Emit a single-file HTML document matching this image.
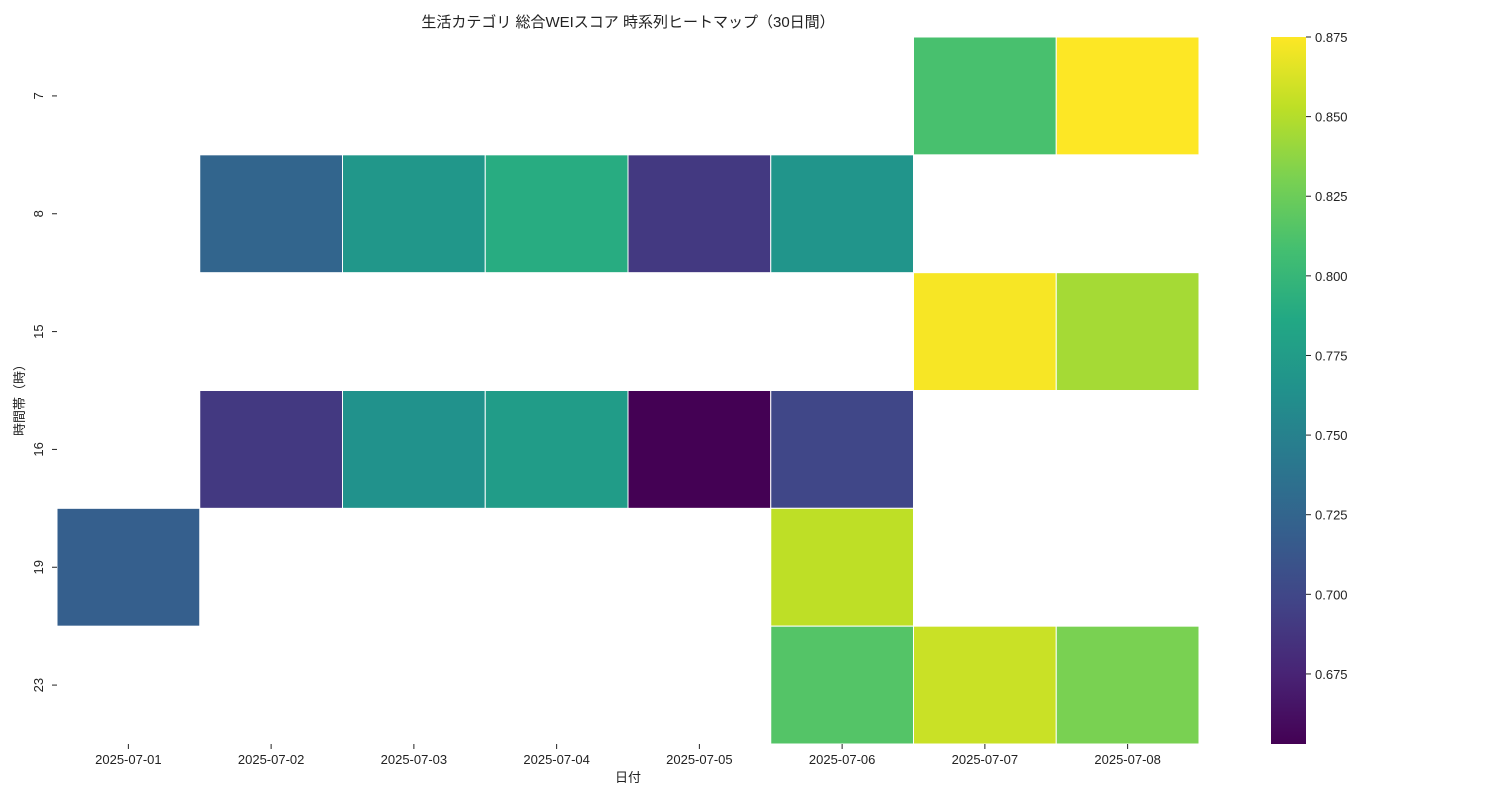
<!DOCTYPE html>
<html><head><meta charset="utf-8"><style>
body{margin:0;background:#fff;}
svg text{font-family:"Liberation Sans","Noto Sans CJK JP",sans-serif;fill:#222;}
</style></head><body>
<svg id="chart" width="1500" height="800" xmlns="http://www.w3.org/2000/svg">
<defs><linearGradient id="cbg" x1="0" y1="1" x2="0" y2="0">
<stop offset="0" stop-color="#440154"/><stop offset="0.1" stop-color="#482475"/><stop offset="0.2" stop-color="#414487"/><stop offset="0.3" stop-color="#355f8d"/><stop offset="0.4" stop-color="#2a788e"/><stop offset="0.5" stop-color="#21918c"/><stop offset="0.6" stop-color="#22a884"/><stop offset="0.7" stop-color="#44bf70"/><stop offset="0.8" stop-color="#7ad151"/><stop offset="0.9" stop-color="#bddf26"/><stop offset="1" stop-color="#fde725"/>
</linearGradient></defs>
<text x="628" y="27" font-size="15" text-anchor="middle">生活カテゴリ 総合WEIスコア 時系列ヒートマップ（30日間）</text>
<text x="628" y="782" font-size="13" text-anchor="middle">日付</text>
<text transform="translate(24,397) rotate(-90)" font-size="13" text-anchor="middle">時間帯（時）</text>
<rect x="1271" y="37" width="35" height="707" fill="url(#cbg)"/>
<g id="cells"></g><g id="axes"></g>
</svg>
<script>
const dates=["2025-07-01","2025-07-02","2025-07-03","2025-07-04","2025-07-05","2025-07-06","2025-07-07","2025-07-08"];
const hours=["7","8","15","16","19","23"];
const values=[
[null,null,null,null,null,null,0.81,0.875],
[null,0.725,0.77,0.79,0.69,0.768,null,null],
[null,null,null,null,null,null,0.873,0.845],
[null,0.69,0.765,0.775,0.653,0.70,null,null],
[0.72,null,null,null,null,0.853,null,null],
[null,null,null,null,null,0.815,0.857,0.83]];
const cbTicks=[0.675,0.7,0.725,0.75,0.775,0.8,0.825,0.85,0.875];
const vmin=0.653,vmax=0.875;
const X0=57,X1=1199,Y0=37,Y1=744;
const cw=(X1-X0)/dates.length,ch=(Y1-Y0)/hours.length;
const xPos=i=>X0+i*cw, yPos=j=>Y0+j*ch;
const cbY=v=>Y1-(v-vmin)/(vmax-vmin)*(Y1-Y0);
const vir=["#440154","#482475","#414487","#355f8d","#2a788e","#21918c","#22a884","#44bf70","#7ad151","#bddf26","#fde725"];
function hex(h){return [1,3,5].map(k=>parseInt(h.substr(k,2),16));}
function color(v){let t=Math.max(0,Math.min(1,(v-vmin)/(vmax-vmin)))*10;let i=Math.min(9,Math.floor(t)),f=t-i;
const a=hex(vir[i]),b=hex(vir[i+1]);return "rgb("+a.map((c,k)=>Math.round(c+(b[k]-c)*f)).join(",")+")";}
const NS="http://www.w3.org/2000/svg";
const cells=document.getElementById("cells"),axes=document.getElementById("axes");
function mk(tag,attrs,parent){const e=document.createElementNS(NS,tag);for(const k in attrs)e.setAttribute(k,attrs[k]);parent.appendChild(e);return e;}
values.forEach((row,j)=>row.forEach((v,i)=>{if(v==null)return;
const r=mk("rect",{x:xPos(i),y:yPos(j),width:cw,height:ch,fill:color(v),stroke:"#fff","stroke-width":1},cells);

}));
dates.forEach((d,i)=>{const cx=xPos(i)+cw/2;
mk("line",{x1:cx,x2:cx,y1:Y1,y2:Y1+5,stroke:"#222"},axes);
const t=mk("text",{x:cx,y:Y1+20,"font-size":13,"text-anchor":"middle"},axes);t.textContent=d;

});
hours.forEach((h,j)=>{const cy=yPos(j)+ch/2;
mk("line",{x1:X0-5,x2:X0,y1:cy,y2:cy,stroke:"#222"},axes);
const t=mk("text",{transform:`translate(${X0-14},${cy}) rotate(-90)`,"font-size":13,"text-anchor":"middle"},axes);t.textContent=h;

});
cbTicks.forEach(v=>{const y=cbY(v);
mk("line",{x1:1306,x2:1311,y1:y,y2:y,stroke:"#222"},axes);
const t=mk("text",{x:1315,y:y+5,"font-size":13},axes);t.textContent=v.toFixed(3);

});
</script>
</body></html>
